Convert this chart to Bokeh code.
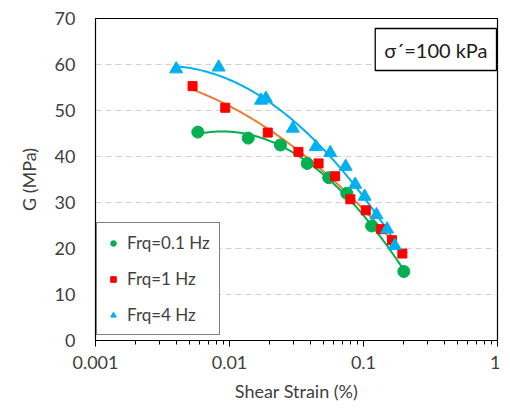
import numpy as np
from bokeh.plotting import figure
from bokeh.models import (FixedTicker, CustomJSTickFormatter, Legend, LegendItem, Label)
from bokeh.embed import file_html
from bokeh.resources import INLINE

# ---- data ----
green_x = [0.0058, 0.0138, 0.024, 0.038, 0.055, 0.075, 0.115, 0.20]
green_y = [45.3, 44.0, 42.5, 38.5, 35.4, 32.0, 24.9, 15.0]

red_x = [0.0053, 0.0093, 0.0193, 0.0327, 0.0462, 0.0614, 0.0798, 0.104, 0.1355, 0.163, 0.195]
red_y = [55.3, 50.6, 45.2, 41.0, 38.5, 35.7, 30.7, 28.3, 24.2, 21.8, 18.9]

blue_x = [0.0040, 0.0083, 0.0172, 0.0187, 0.0297, 0.0441, 0.0565, 0.0736, 0.0867, 0.102, 0.125, 0.150, 0.171]
blue_y = [59.0, 59.4, 52.2, 52.6, 46.1, 42.1, 40.8, 37.8, 33.9, 31.3, 27.3, 24.2, 20.6]

series_names = ["Frq=0.1 Hz", "Frq=1 Hz", "Frq=4 Hz"]
x_ticks = [0.001, 0.01, 0.1, 1]
y_ticks = [0, 10, 20, 30, 40, 50, 60, 70]
annotation_text = "σ´=100 kPa"

FONT = "Lato"
TXT = "#404040"

p = figure(width=500, height=404, x_axis_type="log", x_range=(0.001, 1), y_range=(0, 70),
           output_backend="svg", toolbar_location=None,
           min_border_left=95, min_border_right=3, min_border_top=18, min_border_bottom=58)
p.background_fill_color = "white"
p.border_fill_color = "white"
p.outline_line_color = "black"
p.outline_line_width = 1.2

# trendlines (2nd order polynomial in log10 of strain)
def trend(xs, ys):
    lx = np.log10(np.asarray(xs)); ys = np.asarray(ys)
    c = np.polyfit(lx, ys, 2)
    ll = np.linspace(lx.min(), lx.max(), 200)
    return 10 ** ll, np.polyval(c, ll)

gx, gy = trend(green_x, green_y)
rx, ry = trend(red_x, red_y)
bx, by = trend(blue_x, blue_y)
p.line(gx, gy, line_color="#00B050", line_width=2)
p.line(rx, ry, line_color="#ED7D31", line_width=2)
p.line(bx, by, line_color="#00B0F0", line_width=2)

rg = p.scatter(green_x, green_y, marker="circle", size=12, fill_color="#00B050", line_color="#00B050")
rr = p.scatter(red_x, red_y, marker="square", size=9, fill_color="#FF0000", line_color="#FF0000")
rb = p.scatter(blue_x, blue_y, marker="triangle", size=13, fill_color="#00B0F0", line_color="#00B0F0")

# axes
xa = p.xaxis[0]
xa.ticker = FixedTicker(ticks=x_ticks,
                        minor_ticks=[m * t for t in x_ticks[:-1] for m in range(2, 10)])
xa.formatter = CustomJSTickFormatter(code="return tick.toString()")
xa.major_tick_out = 6
xa.major_tick_in = 0
xa.minor_tick_out = 4
xa.minor_tick_in = 0
xa.axis_label = "Shear Strain (%)"

ya = p.yaxis[0]
ya.ticker = FixedTicker(ticks=y_ticks)
ya.major_tick_out = 0
ya.major_tick_in = 0
ya.minor_tick_out = 0
ya.minor_tick_in = 0
ya.axis_label = "G (MPa)"

for ax in (xa, ya):
    ax.axis_line_color = "black"
    ax.major_tick_line_color = "black"
    ax.minor_tick_line_color = "black"
    ax.major_label_text_font = FONT
    ax.major_label_text_font_size = "18px"
    ax.major_label_text_color = TXT
    ax.axis_label_text_font = FONT
    ax.axis_label_text_font_size = "18px"
    ax.axis_label_text_font_style = "normal"
    ax.axis_label_text_color = TXT
xa.major_label_standoff = 9
xa.axis_label_standoff = 8
ya.major_label_standoff = 20
ya.axis_label_standoff = 12

p.xgrid.visible = False
p.ygrid.grid_line_color = "#d0d0d0"
p.ygrid.grid_line_dash = "6 4"
p.ygrid.grid_line_width = 1

legend = Legend(items=[LegendItem(label=series_names[0], renderers=[rg]),
                       LegendItem(label=series_names[1], renderers=[rr]),
                       LegendItem(label=series_names[2], renderers=[rb])],
                location=(1, 5))
legend.border_line_color = "black"
legend.border_line_width = 1
legend.background_fill_color = "white"
legend.label_text_font = FONT
legend.label_text_font_size = "17px"
legend.label_text_color = TXT
legend.label_height = 20
legend.glyph_height = 16
legend.glyph_width = 14
legend.spacing = 15
legend.padding = 9
legend.margin = 0
legend.label_standoff = 7
p.add_layout(legend, "center")

lab = Label(x=401, y=312, x_units="screen", y_units="screen", text=annotation_text,
            text_font=FONT, text_font_size="20px", text_color="#202020",
            text_align="right", text_baseline="top",
            border_line_color="black", border_line_width=1.3,
            background_fill_color="white", padding=9)
p.add_layout(lab)

open("out.html", "w").write(file_html(p, INLINE))
